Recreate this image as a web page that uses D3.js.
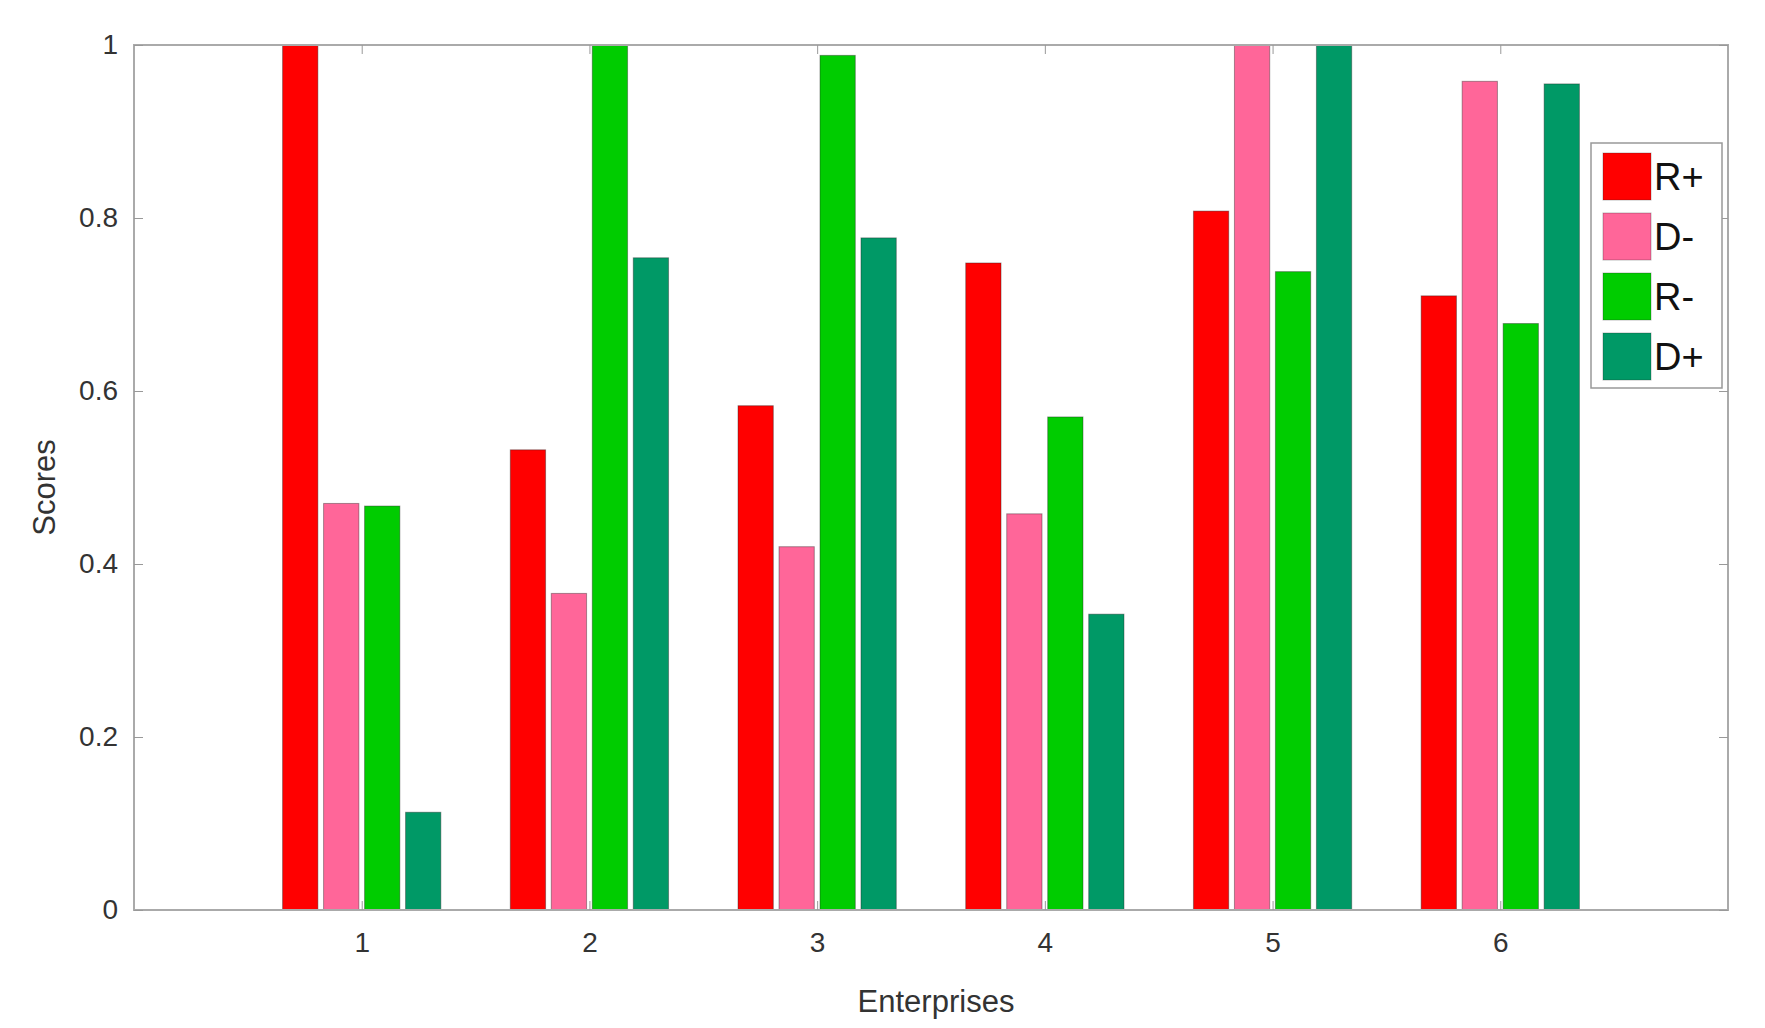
<!DOCTYPE html>
<html><head><meta charset="utf-8">
<script src="https://cdn.jsdelivr.net/npm/d3@7"></script>
<style>body{margin:0;background:#fff}text{font-family:Arial,"Liberation Sans",sans-serif}</style>
</head><body>
<script>
let enterprises = [1, 2, 3, 4, 5, 6]
let seriesNames = ["R+", "D-", "R-", "D+"]
let seriesColors = ["#ff0000", "#ff6699", "#00cc00", "#009966"]
let rPlus  = [1.0, 0.532, 0.583, 0.748, 0.808, 0.710]
let dMinus = [0.470, 0.366, 0.420, 0.458, 1.0, 0.958]
let rMinus = [0.467, 1.0, 0.988, 0.570, 0.738, 0.678]
let dPlus  = [0.113, 0.754, 0.777, 0.342, 1.0, 0.955]
let yTicks = [0, 0.2, 0.4, 0.6, 0.8, 1]
let series = [rPlus, dMinus, rMinus, dPlus]

let W = 1765, H = 1028
let m = {l: 134, r: 37, t: 45, b: 118}
let svg = d3.select('body').append('svg').attr('width', W).attr('height', H)

let x = d3.scaleLinear().domain([0, 7]).range([m.l, W - m.r])
let y = d3.scaleLinear().domain([0, 1]).range([H - m.b, m.t])

let step = 0.18, bw = 0.155
series.forEach(function (vals, s) {
    svg.append('g').selectAll('rect')
	.data(vals)
	.enter()
	.append('rect')
	.attr('x', function (d, i) { return x(enterprises[i] + (s - 1.5) * step - bw / 2) })
	.attr('width', x(bw) - x(0))
	.attr('y', function (d) { return y(d) })
	.attr('height', function (d) { return y(0) - y(d) })
	.attr('fill', seriesColors[s])
	.attr('stroke', '#222').attr('stroke-opacity', 0.4).attr('stroke-width', 1)
})

// box
svg.append('rect').attr('x', m.l).attr('y', m.t)
    .attr('width', W - m.r - m.l).attr('height', H - m.b - m.t)
    .attr('fill', 'none').attr('stroke', '#aaa').attr('stroke-width', 2)

let ax = svg.append('g').attr('transform', 'translate(0,' + (H - m.b) + ')')
    .call(d3.axisBottom(x).tickValues(enterprises).tickSize(-9).tickPadding(22).tickFormat(d3.format('d')))
let axTop = svg.append('g').attr('transform', 'translate(0,' + m.t + ')')
    .call(d3.axisTop(x).tickValues(enterprises).tickSize(-9).tickFormat(''))
let ay = svg.append('g').attr('transform', 'translate(' + m.l + ',0)')
    .call(d3.axisLeft(y).tickValues(yTicks).tickSize(-9).tickPadding(16).tickFormat(function (d) { return d === 0 || d === 1 ? d : d3.format('.1f')(d) }))
let ayR = svg.append('g').attr('transform', 'translate(' + (W - m.r) + ',0)')
    .call(d3.axisRight(y).tickValues(yTicks).tickSize(-9).tickFormat(''))
;[ax, axTop, ay, ayR].forEach(function (g) {
    g.select('.domain').remove()
    g.selectAll('line').attr('stroke', '#999')
    g.selectAll('text').attr('fill', '#333').style('font-size', '28px')
})

svg.append('text').attr('x', (m.l + W - m.r) / 2 + 5).attr('y', 1012)
    .attr('text-anchor', 'middle').attr('fill', '#333').style('font-size', '31px').text('Enterprises')
svg.append('text').attr('transform', 'translate(55,' + (y(0.5) + 10) + ') rotate(-90)')
    .attr('text-anchor', 'middle').attr('fill', '#333').style('font-size', '31px').text('Scores')

// legend
let lg = svg.append('g').attr('transform', 'translate(1591,143)')
lg.append('rect').attr('width', 131).attr('height', 245).attr('fill', '#fff').attr('stroke', '#999').attr('stroke-width', 1.5)
seriesNames.forEach(function (n, i) {
    lg.append('rect').attr('x', 12).attr('y', 10 + i * 60).attr('width', 48).attr('height', 47)
	.attr('fill', seriesColors[i]).attr('stroke', '#222').attr('stroke-opacity', 0.3)
    lg.append('text').attr('x', 63).attr('y', 47 + i * 60).attr('fill', '#111').style('font-size', '38px').text(n)
})
</script>
</body></html>
